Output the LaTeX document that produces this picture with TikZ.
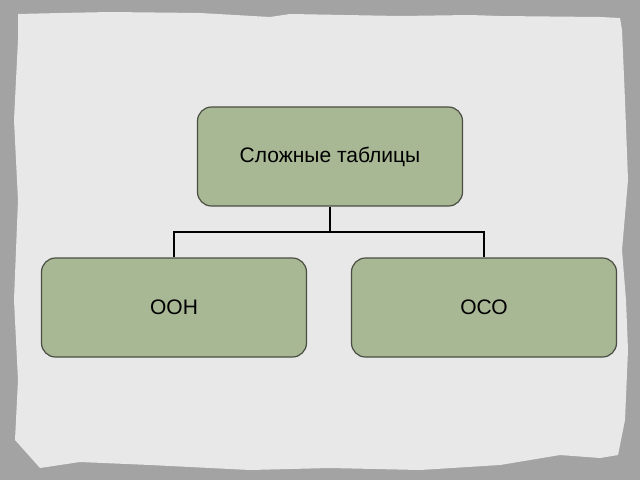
\documentclass[tikz,border=0pt]{standalone}
\usepackage{fontspec}
\setmainfont{Liberation Sans}
\usetikzlibrary{positioning}
\definecolor{sage}{RGB}{168,183,148}
\definecolor{boxline}{RGB}{74,78,66}
\definecolor{outergray}{RGB}{163,163,163}
\definecolor{papergray}{RGB}{232,232,232}
\tikzstyle{tblbox}=[rectangle,rounded corners=14pt,draw=boxline,line width=1.2pt,fill=sage,minimum width=265pt,minimum height=99pt,font=\fontsize{21}{25}\selectfont]
\tikzstyle{tree}=[line width=2pt,black]

\begin{document}
\begin{tikzpicture}[x=1pt,y=-1pt]
\useasboundingbox (0,0) rectangle (640,480);
\fill[outergray] (0,0) rectangle (640,480);
\fill[papergray] (18,14) -- (60,13) -- (110,12) -- (200,13) -- (270,17) -- (290,14) -- (400,16) -- (470,15) -- (500,16) -- (600,17) -- (620,18)
  -- (622,30) -- (625,100) -- (628,180) -- (622,250) -- (626,300) -- (628,350) -- (625,420) -- (618,455)
  -- (600,458) -- (560,455) -- (500,465) -- (420,470) -- (330,468) -- (250,470) -- (150,465) -- (80,462) -- (40,468)
  -- (15,440) -- (18,380) -- (14,300) -- (18,200) -- (14,120) -- (18,40) -- cycle;
\node[tblbox] (T) at (330,156.5) {Сложные таблицы};
\node[tblbox] (L) at (174,307.5) {ООН};
\node[tblbox] (R) at (484,307.5) {ОСО};
\coordinate (M) at (330,231.5);
\draw[tree](T.south)--(M);\draw[tree](M)-|(L.north);\draw[tree](M)-|(R.north);
\end{tikzpicture}
\end{document}
